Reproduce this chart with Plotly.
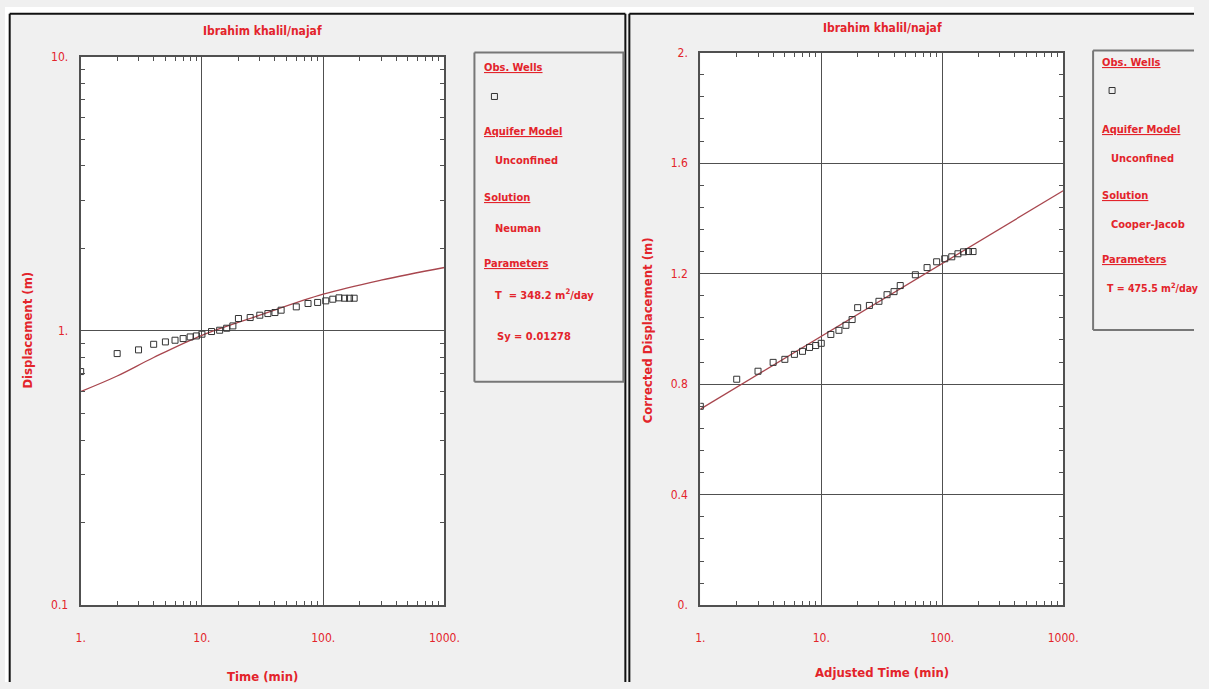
import plotly.graph_objects as go

# ---------------- data ----------------
obs_time = [1, 2, 3, 4, 5, 6, 7, 8, 9, 10, 12, 14, 16, 18, 20, 25, 30, 35, 40, 45,
            60, 75, 90, 105, 120, 135, 150, 165, 180]
obs_disp = [0.711, 0.827, 0.853, 0.894, 0.912, 0.925, 0.938, 0.951, 0.959, 0.973,
            0.995, 1.006, 1.023, 1.043, 1.11, 1.119, 1.141, 1.157, 1.167, 1.19,
            1.224, 1.259, 1.27, 1.287, 1.305, 1.32, 1.316, 1.316, 1.316]
neuman_time = [1, 2, 4, 10, 30, 100, 300, 1000]
neuman_disp = [0.601, 0.685, 0.80, 0.964, 1.141, 1.361, 1.531, 1.703]

adj_time = [1, 2, 3, 4, 5, 6, 7, 8, 9, 10, 12, 14, 16, 18, 20, 25, 30, 35, 40, 45,
            60, 75, 90, 105, 120, 135, 150, 165, 180]
corr_disp = [0.72, 0.818, 0.847, 0.879, 0.89, 0.908, 0.919, 0.933, 0.94, 0.948,
             0.98, 0.995, 1.013, 1.034, 1.077, 1.085, 1.10, 1.124, 1.135, 1.157,
             1.196, 1.222, 1.243, 1.254, 1.261, 1.272, 1.279, 1.28, 1.28]
cj_time = [1, 1000]
cj_disp = [0.71, 1.50]

x_tickvals = [1, 10, 100, 1000]
x_ticktext = ["1.", "10.", "100.", "1000."]
y1_tickvals = [0.1, 1, 10]
y1_ticktext = ["0.1", "1.", "10."]
y2_tickvals = [0, 0.4, 0.8, 1.2, 1.6, 2]
y2_ticktext = ["0.", "0.4", "0.8", "1.2", "1.6", "2."]
log_minor = [2, 3, 4, 5, 6, 7, 8, 9, 20, 30, 40, 50, 60, 70, 80, 90,
             200, 300, 400, 500, 600, 700, 800, 900]
y1_minor = [0.2, 0.3, 0.4, 0.5, 0.6, 0.7, 0.8, 0.9, 2, 3, 4, 5, 6, 7, 8, 9]

# ---------------- style ----------------
W, H = 1209, 689
RED = "#e3242b"
LINE = "#a8464e"
FONT = "Liberation Sans Narrow, DejaVu Sans Condensed, Arial Narrow, sans-serif"
GRID = "#505050"
FRAME = "#505050"

# layout placement (picture pixels -> paper fractions)
OX, SX = 4.3, 0.984
OY, SY = 6.3, 0.982


def px(x):
    return ((x - OX) / SX) / W


def py(y):
    return 1 - ((y - OY) / SY) / H


fig = go.Figure()

fig.add_trace(go.Scatter(x=neuman_time, y=neuman_disp, mode="lines",
                         line=dict(color=LINE, width=1.3, shape="spline"),
                         xaxis="x", yaxis="y", showlegend=False))
fig.add_trace(go.Scatter(x=obs_time, y=obs_disp, mode="markers",
                         marker=dict(symbol="square-open", size=6, color="#333333",
                                     line=dict(width=1)),
                         xaxis="x", yaxis="y", showlegend=False))
fig.add_trace(go.Scatter(x=cj_time, y=cj_disp, mode="lines",
                         line=dict(color=LINE, width=1.3),
                         xaxis="x2", yaxis="y2", showlegend=False))
fig.add_trace(go.Scatter(x=adj_time, y=corr_disp, mode="markers",
                         marker=dict(symbol="square-open", size=6, color="#333333",
                                     line=dict(width=1)),
                         xaxis="x2", yaxis="y2", showlegend=False))

tickfont = dict(family=FONT, size=12, color=RED)

common_x = dict(type="log", tickmode="array", tickvals=x_tickvals, ticktext=x_ticktext,
                range=[0, 3], ticks="inside", ticklen=7, tickcolor=FRAME,
                showline=True, linecolor=FRAME, linewidth=2, mirror="ticks",
                showgrid=True, gridcolor=GRID, gridwidth=1.2, zeroline=False,
                tickfont=tickfont, ticklabelstandoff=20,
                minor=dict(tickmode="array", tickvals=log_minor, ticks="inside",
                           ticklen=4, tickcolor=FRAME, showgrid=False))

fig.update_layout(
    width=W, height=H,
    margin=dict(l=0, r=0, t=0, b=0),
    paper_bgcolor="#f0f0f0",
    plot_bgcolor="white",
    showlegend=False,
    xaxis=dict(domain=[px(80), px(444)], anchor="y", **common_x),
    yaxis=dict(domain=[py(606), py(56)], anchor="x", type="log",
               tickmode="array", tickvals=y1_tickvals, ticktext=y1_ticktext,
               range=[-1, 1], ticks="inside", ticklen=7, tickcolor=FRAME,
               showline=True, linecolor=FRAME, linewidth=2, mirror="ticks",
               showgrid=True, gridcolor=GRID, gridwidth=1.2, zeroline=False,
               tickfont=tickfont, ticklabelstandoff=8,
               minor=dict(tickmode="array", tickvals=y1_minor, ticks="inside",
                          ticklen=4, tickcolor=FRAME, showgrid=False)),
    xaxis2=dict(domain=[px(700), px(1063)], anchor="y2", **common_x),
    yaxis2=dict(domain=[py(606), py(52)], anchor="x2",
                tickmode="array", tickvals=y2_tickvals, ticktext=y2_ticktext,
                range=[0, 2], ticks="inside", ticklen=7, tickcolor=FRAME,
                showline=True, linecolor=FRAME, linewidth=2, mirror="ticks",
                showgrid=True, gridcolor=GRID, gridwidth=1.2, zeroline=False,
                tickfont=tickfont, ticklabelstandoff=8,
                minor=dict(tickmode="linear", tick0=0, dtick=0.08, ticks="inside",
                           ticklen=4, tickcolor=FRAME, showgrid=False)),
)


def clampx(v):
    return min(max(v, 0), 1)


def clampy(v):
    return min(max(v, 0), 1)


def line(x0, y0, x1, y1, color="#111111", width=2):
    return dict(type="line", xref="paper", yref="paper", x0=clampx(px(x0)), x1=clampx(px(x1)),
                y0=clampy(py(y0)), y1=clampy(py(y1)), line=dict(color=color, width=width),
                layer="above")


shapes = []
# white outer margins
shapes.append(dict(type="rect", xref="paper", yref="paper", x0=0, x1=1,
                   y0=py(13), y1=1, fillcolor="white", line=dict(width=0), layer="above"))
shapes.append(dict(type="rect", xref="paper", yref="paper", x0=0, x1=px(8),
                   y0=0, y1=1, fillcolor="white", line=dict(width=0), layer="above"))
# panel borders (kept inside the paper)
shapes += [line(9, 13, 625, 13), line(9, 13, 9, 700), line(625, 13, 625, 700),
           line(629, 13, 1230, 13), line(629, 13, 629, 700)]
# legend boxes
shapes += [line(474, 52, 624, 52, "#777777"), line(474, 52, 474, 382, "#777777"),
           line(474, 382, 624, 382, "#777777"), line(623, 52, 623, 382, "#777777")]
shapes += [line(1093, 50, 1230, 50, "#777777"), line(1093, 50, 1093, 330, "#777777"),
           line(1093, 330, 1230, 330, "#777777")]
# legend marker squares
for (cx, cy) in [(494, 96), (1112, 90)]:
    shapes.append(dict(type="rect", xref="paper", yref="paper", x0=px(cx - 3), x1=px(cx + 3),
                       y0=py(cy + 3), y1=py(cy - 3), line=dict(color="#333333", width=1),
                       fillcolor="rgba(0,0,0,0)", layer="above"))
fig.update_layout(shapes=shapes)

ann = []


def text(x, y, s, size=12, xanchor="left", angle=0):
    ann.append(dict(x=px(x), y=py(y), xref="paper", yref="paper", text=s,
                    showarrow=False, xanchor=xanchor, yanchor="middle", textangle=angle,
                    font=dict(family=FONT, size=size, color=RED)))


# titles
text(262, 30, "<b>Ibrahim khalil/najaf</b>", 12, "center")
text(882, 27, "<b>Ibrahim khalil/najaf</b>", 12, "center")
# axis titles
text(262, 677, "<b>Time (min)</b>", 13, "center")
text(27, 330, "<b>Displacement (m)</b>", 13, "center", -90)
text(882, 673, "<b>Adjusted Time (min)</b>", 13, "center")
text(648, 330, "<b>Corrected Displacement (m)</b>", 13, "center", -90)

# left legend
text(482, 67, "<b><u>Obs. Wells</u></b>", 11)
text(482, 131, "<b><u>Aquifer Model</u></b>", 11)
text(493, 160, "<b>Unconfined</b>", 11)
text(482, 197, "<b><u>Solution</u></b>", 11)
text(493, 228, "<b>Neuman</b>", 11)
text(482, 263, "<b><u>Parameters</u></b>", 11)
text(493, 294, "<b>T  = 348.2 m<sup>2</sup>/day</b>", 11)
text(495, 337, "<b>Sy = 0.01278</b>", 11)

# right legend
text(1100, 62, "<b><u>Obs. Wells</u></b>", 11)
text(1100, 129, "<b><u>Aquifer Model</u></b>", 11)
text(1109, 158, "<b>Unconfined</b>", 11)
text(1100, 195, "<b><u>Solution</u></b>", 11)
text(1109, 224, "<b>Cooper-Jacob</b>", 11)
text(1100, 259, "<b><u>Parameters</u></b>", 11)
text(1105, 287, "<b>T = 475.5 m<sup>2</sup>/day</b>", 10.5)

fig.update_layout(annotations=ann)

fig.write_html(
    "out.html",
    config={"displayModeBar": False},
    post_script="document.body.style.margin='0';document.body.style.overflow='hidden';",
)
